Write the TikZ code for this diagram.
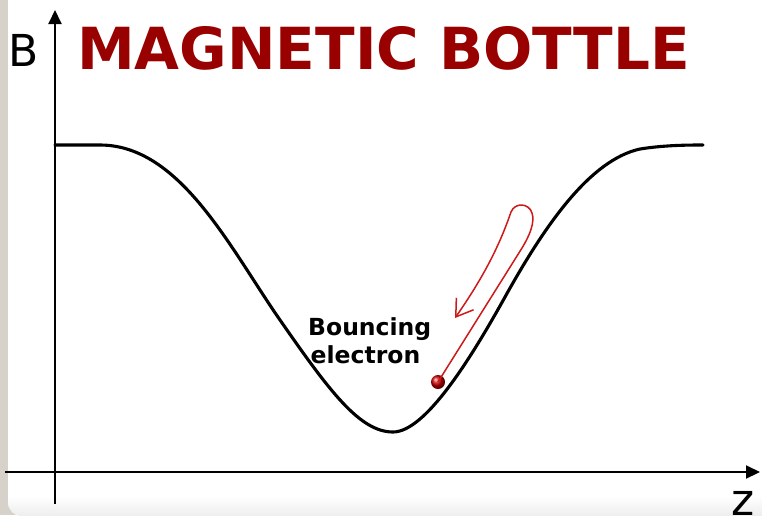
\documentclass[tikz,border=0pt]{standalone}
\usepackage{fontspec}
\setmainfont{DejaVu Sans}
\newfontfamily\djbold{DejaVu Sans Bold}
\usetikzlibrary{arrows.meta}
\definecolor{titlered}{RGB}{153,0,0}
\definecolor{pathred}{RGB}{205,25,25}
\definecolor{stripgray}{RGB}{214,210,202}
\tikzset{
  axisline/.style={line width=2pt, -{Triangle[length=14pt,width=13pt]}},
  fieldcurve/.style={line width=3.1pt, line cap=round},
  redpath/.style={pathred, line width=1.5pt, -{Straight Barb[length=16pt,width=21pt,line width=1.5pt]}},
}
\begin{document}
\begin{tikzpicture}[x=1pt,y=-1pt]
\useasboundingbox (0,0) rectangle (762,515);
% background panel
\fill[stripgray] (0,0) rectangle (762,515);
\begin{scope}
\clip[rounded corners=14pt] (8,-40) rectangle (820,516);
\fill[white] (0,-40) rectangle (820,520);
\shade[top color=white, bottom color=black!7] (0,496) rectangle (820,516);
\end{scope}
% axes
\coordinate (ybot) at (55,504);
\coordinate (ytop) at (55,10);
\coordinate (xleft) at (5,472);
\coordinate (xright) at (760,472);
\draw[axisline] (ybot) -- (ytop);
\draw[axisline] (xleft) -- (xright);
\node[anchor=base west, inner sep=0, font=\fontsize{44}{44}\selectfont] (blabel) at (8,66) {B};
\node[anchor=base west, inner sep=0, font=\fontsize{44}{44}\selectfont] (zlabel) at (731,515) {z};
% title
\node[anchor=base west, inner sep=0, text=titlered, font=\djbold\fontsize{58}{58}\selectfont] (title) at (77,69) {MAGNETIC BOTTLE};
% field curve
\draw[fieldcurve] (55,145) -- (100,145)
  .. controls (180,145) and (230,248) .. (280,320)
  .. controls (330,392) and (360,432) .. (393,432)
  .. controls (425,432) and (470,360) .. (505,297)
  .. controls (545,225) and (590,160) .. (640,149)
  .. controls (665,145) and (690,145) .. (703,145);
% electron
\node[circle, inner sep=0, minimum size=14pt, ball color=red!80!black] (elec) at (438,382) {};
\draw[redpath] (elec.center) -- (522,248)
  .. controls (530,235) and (535,222) .. (532,213)
  .. controls (529,203) and (515,202) .. (511,212)
  .. controls (503,235) and (490,268) .. (455,318);
\node[anchor=base west, inner sep=0, font=\djbold\fontsize{23.5}{28}\selectfont] (label1) at (308,335) {Bouncing};
\node[anchor=base west, inner sep=0, font=\djbold\fontsize{23.5}{28}\selectfont] (label2) at (310.5,363) {electron};
\end{tikzpicture}
\end{document}
